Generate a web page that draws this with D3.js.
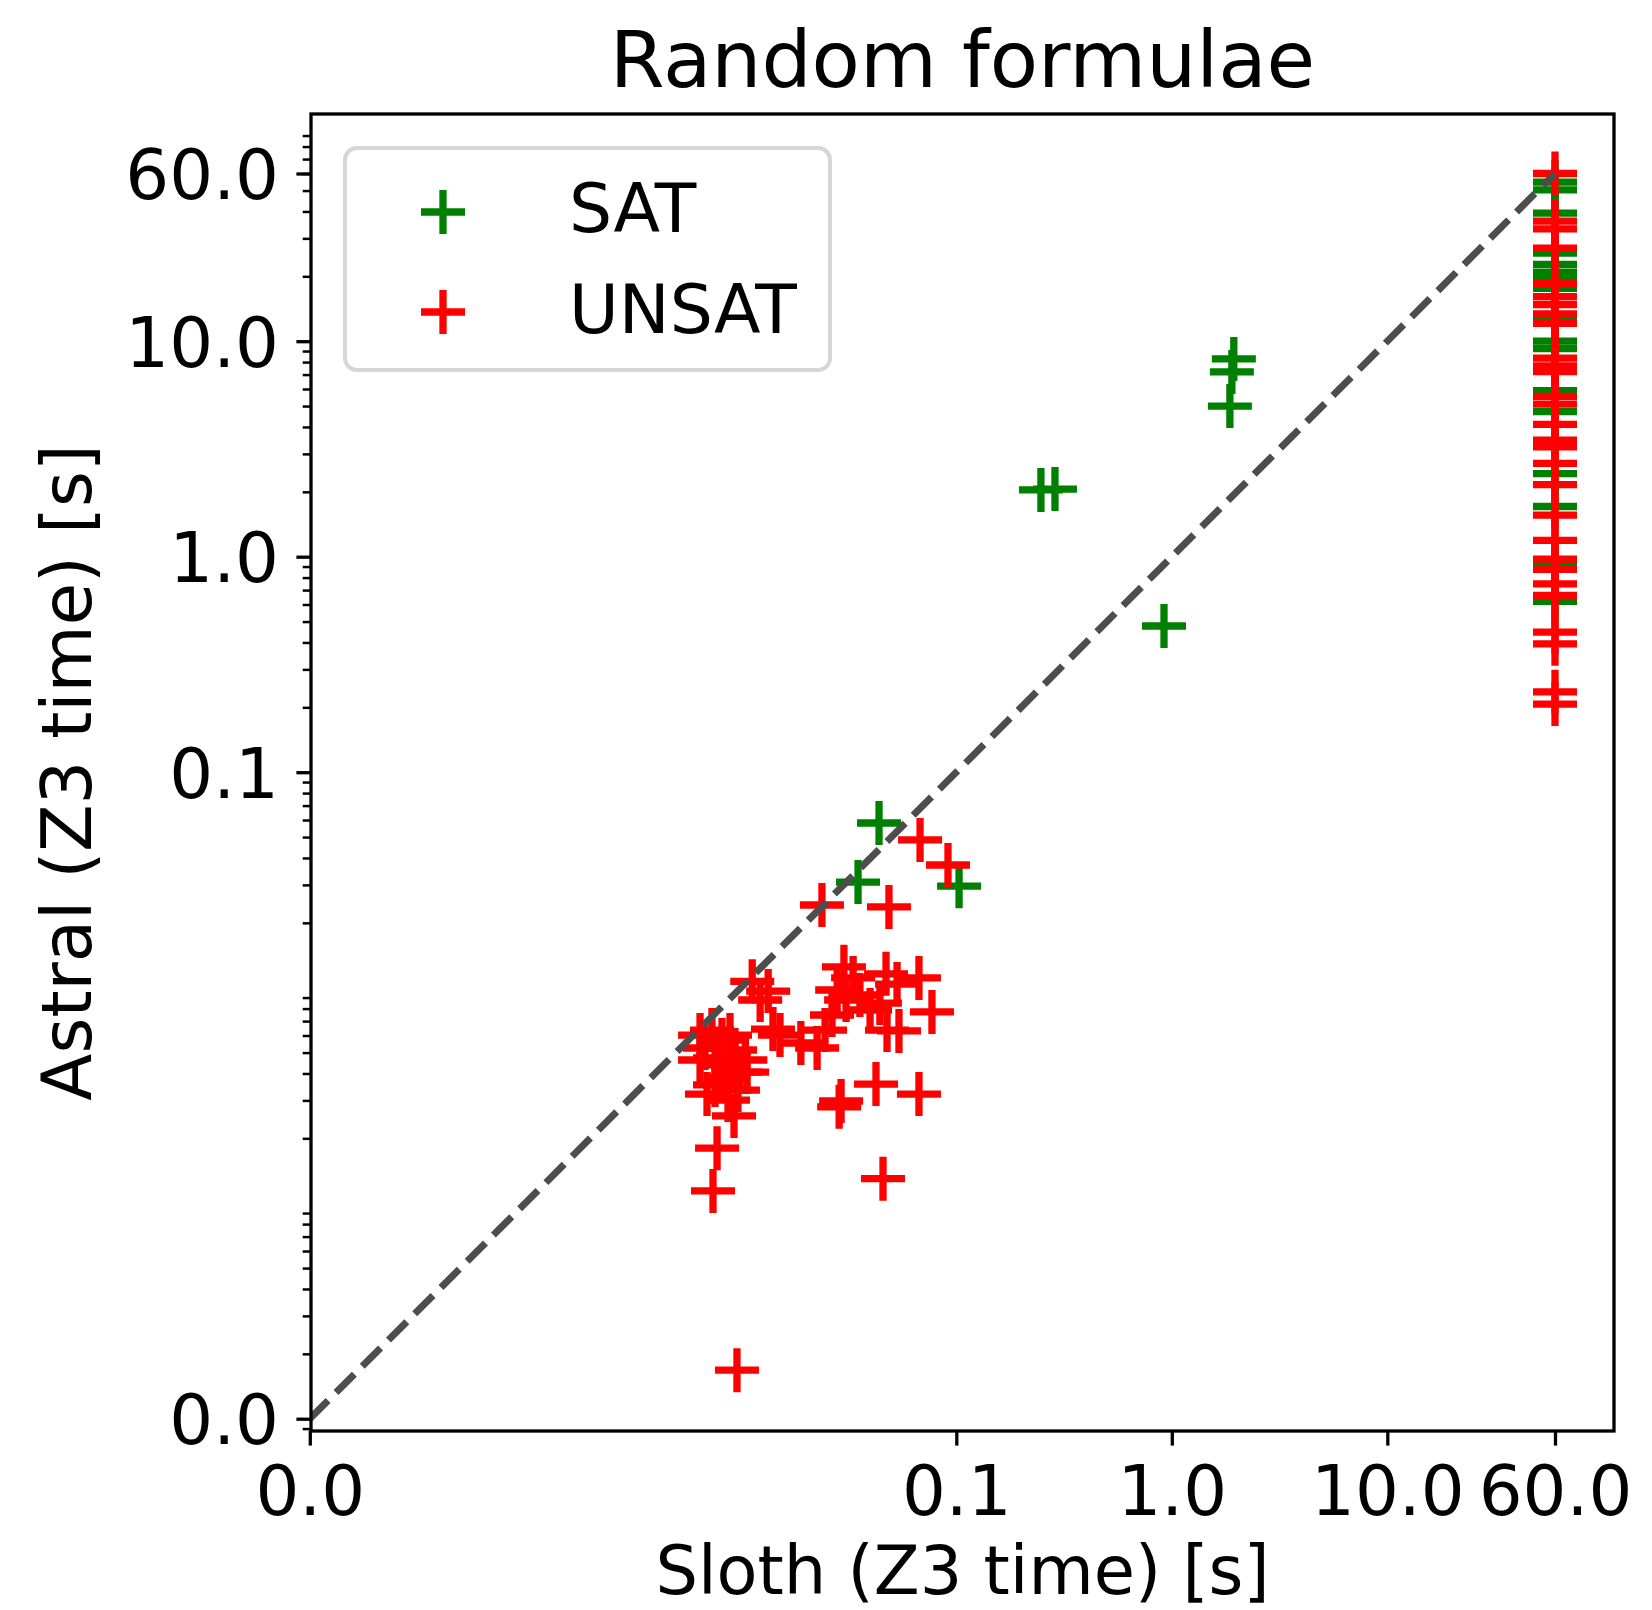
<!DOCTYPE html>
<html>
<head>
<meta charset="utf-8">
<script src="https://cdn.jsdelivr.net/npm/d3@7"></script>
<style>
  body { margin: 0; background: #fff; }
  text { font-family: "DejaVu Sans", sans-serif; fill: #000; }
</style>
</head>
<body>
<svg id="chart"></svg>
<script>
// constants
const width = 1652;
const height = 1610;
const margin = {
    left: 311,
    right: 38,
    top: 114,
    bottom: 179,
};
const visWidth = width - margin.left - margin.right
const visHeight = height - margin.top - margin.bottom

// data (seconds)
var timeout = 60

var satSloth  = [0.0438, 0.103, 0.035, 0.247, 0.287, 1.94, 1.90, 1.86, 0.92]
var satAstral = [0.0581, 0.0296, 0.0309, 2.04, 2.06, 8.27, 7.20, 5.00, 0.477]
var satTimeoutAstral = [54.7, 50.4, 39.3, 25.6, 22.7, 20.9, 19.9, 17.6, 12.8, 10.0, 9.25,
    5.89, 4.71, 2.43, 1.71, 0.925, 0.62]

var unsatSloth = [
    0.00647, 0.00735, 0.00818, 0.00682, 0.00891, 0.00759, 0.0094, 0.00818, 0.00992, 0.00872,
    0.00759, 0.0105, 0.0113, 0.0134, 0.0141, 0.0107, 0.00697, 0.0093, 0.00776, 0.00743,
    0.0096, 0.0123, 0.00647, 0.00872, 0.0152, 0.0097,
    0.0301, 0.0332, 0.028, 0.0472, 0.0531, 0.0671, 0.0771, 0.0442, 0.0477, 0.0542,
    0.0265, 0.0308, 0.019, 0.0226, 0.0424, 0.0671, 0.0292, 0.0286, 0.0457, 0.0357,
    0.0398, 0.0246,
    0.0679, 0.0915, 0.0238, 0.0487]
var unsatAstral = [
    0.00603, 0.00636, 0.00572, 0.00525, 0.00603, 0.00472, 0.00514, 0.00438, 0.00406, 0.00381,
    0.00354, 0.00462, 0.0107, 0.00965, 0.00643, 0.00406, 0.00321, 0.00254, 0.0018, 0.00114,
    0.000168, 0.00877, 0.00462, 0.00301, 0.00603, 0.00335,
    0.0125, 0.0111, 0.00976, 0.0116, 0.0104, 0.0111, 0.00772, 0.00849, 0.00636, 0.0063,
    0.00747, 0.00877, 0.00554, 0.00525, 0.00357, 0.00321, 0.00298, 0.0028, 0.0013, 0.00925,
    0.00788, 0.00636,
    0.0485, 0.0371, 0.0242, 0.0237]
var unsatTimeoutAstral = [60, 36.1, 33.2, 27.0, 18.5, 16.1, 14.8, 13.4, 12.1, 8.35, 7.69, 7.23,
    5.55, 5.11, 4.11, 3.47, 3.23, 2.71, 2.16, 1.56, 1.19, 0.975, 0.873, 0.748, 0.661,
    0.447, 0.394, 0.236, 0.207]

var tickValues = [0.0001, 0.1, 1, 10, 60]
var xDomain = [0.0001013, 112.7]
var yDomain = [0.0000877, 113.3]

var groups = [
    {name: "SAT", color: "green",
     sloth: satSloth.concat(satTimeoutAstral.map(() => timeout)),
     astral: satAstral.concat(satTimeoutAstral)},
    {name: "UNSAT", color: "red",
     sloth: unsatSloth.concat(unsatTimeoutAstral.map(() => timeout)),
     astral: unsatAstral.concat(unsatTimeoutAstral)},
]

var plus = "M-22,0H22M0,-22V22"
var fontSize = 69

d3.select('svg#chart').attr('width', width).attr('height', height)
var svg = d3.select('svg#chart').append('g')
    .attr('transform', 'translate(' + margin.left + ', ' + margin.top + ')')

var x = d3.scaleLog().domain(xDomain).range([0, visWidth])
var y = d3.scaleLog().domain(yDomain).range([visHeight, 0])

svg.append("clipPath").attr("id", "clip")
    .append("rect").attr("width", visWidth).attr("height", visHeight)

// markers
var plot = svg.append("g").attr("clip-path", "url(#clip)")
groups.forEach(function(g) {
    plot.append("g")
        .selectAll("path")
        .data(g.sloth.map((s, i) => [s, g.astral[i]]))
        .enter().append("path")
        .attr("d", plus)
        .attr("transform", d => "translate(" + x(d[0]) + "," + y(d[1]) + ")")
        .attr("fill", "none")
        .attr("stroke", g.color)
        .attr("stroke-width", 7.3)
})

// diagonal
plot.append("line")
    .attr("x1", x(0.0001)).attr("y1", y(0.0001))
    .attr("x2", x(timeout)).attr("y2", y(timeout))
    .attr("stroke", "#4d4d4d")
    .attr("stroke-width", 7)
    .attr("stroke-dasharray", "25.9,11.2")

// axes
var fmt = d3.format(".1f")
var xAxis = svg.append("g")
    .attr("transform", "translate(0," + visHeight + ")")
    .call(d3.axisBottom(x).tickValues(tickValues).tickFormat(fmt)
        .tickSize(14.6).tickSizeOuter(0).tickPadding(20.4))

var yAxis = svg.append("g")
    .call(d3.axisLeft(y).tickValues(tickValues).tickFormat(fmt)
        .tickSize(14.6).tickSizeOuter(0).tickPadding(17.4))

var minor = y.ticks().filter(function(v) {
    var m = v / Math.pow(10, Math.floor(Math.log10(v) + 1e-9))
    return Math.round(m) != 1
})
var yMinor = svg.append("g")
    .call(d3.axisLeft(y).tickValues(minor).tickFormat("").tickSize(8.3).tickSizeOuter(0))

svg.selectAll(".domain").remove()
svg.selectAll(".tick line").attr("stroke", "#000").attr("stroke-width", 3.3)
yMinor.selectAll(".tick line").attr("stroke-width", 2.5)
svg.selectAll(".tick text")
    .attr("font-family", "DejaVu Sans")
    .attr("font-size", fontSize)
    .attr("fill", "#000")
yAxis.selectAll(".tick text").attr("dy", "0.36em")

// frame
svg.append("rect")
    .attr("width", visWidth).attr("height", visHeight)
    .attr("fill", "none")
    .attr("stroke", "#000")
    .attr("stroke-width", 3.3)

// labels
svg.append("text")
    .attr("class", "title")
    .attr("text-anchor", "middle")
    .attr("x", visWidth / 2)
    .attr("y", 87 - margin.top)
    .style("font-size", "79px")
    .text("Random formulae")

svg.append("text")
    .attr("class", "x-label")
    .attr("text-anchor", "middle")
    .attr("x", visWidth / 2)
    .attr("y", 1594 - margin.top)
    .style("font-size", "67px")
    .text("Sloth (Z3 time) [s]")

svg.append("text")
    .attr("class", "y-label")
    .attr("text-anchor", "middle")
    .attr("transform", "translate(" + (91 - margin.left) + "," + (visHeight / 2) + ") rotate(-90)")
    .style("font-size", fontSize + "px")
    .text("Astral (Z3 time) [s]")

// legend
var legend = svg.append("g").attr("transform", "translate(" + (345 - margin.left) + "," + (148 - margin.top) + ")")
legend.append("rect")
    .attr("width", 485).attr("height", 222)
    .attr("rx", 12)
    .attr("fill", "#fff").attr("fill-opacity", 0.8)
    .attr("stroke", "#cccccc").attr("stroke-opacity", 0.8)
    .attr("stroke-width", 4)

groups.forEach(function(g, i) {
    legend.append("path")
        .attr("d", plus)
        .attr("transform", "translate(98," + (64 + i * 100) + ")")
        .attr("fill", "none")
        .attr("stroke", g.color)
        .attr("stroke-width", 7.3)
    legend.append("text")
        .attr("x", 224)
        .attr("y", 84 + i * 101)
        .style("font-size", "68px")
        .text(g.name)
})
</script>
</body>
</html>
